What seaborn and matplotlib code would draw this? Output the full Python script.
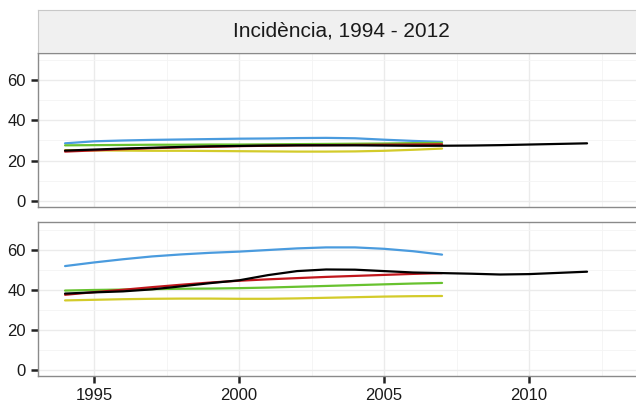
import numpy as np
import pandas as pd
import matplotlib
matplotlib.use("Agg")
import matplotlib.pyplot as plt
from matplotlib.ticker import MultipleLocator
import seaborn as sns

# years
years_short = list(range(1994, 2008))
years_long = list(range(1994, 2013))

# top panel (Incidència)
top_blue = [28.6, 29.6, 30.0, 30.3, 30.5, 30.7, 30.9, 31.0, 31.2, 31.3, 31.1, 30.4, 29.8, 29.3]
top_green = [27.6, 27.7, 27.8, 27.9, 27.9, 28.0, 28.0, 28.1, 28.2, 28.3, 28.4, 28.5, 28.7, 28.8]
top_yellow = [25.2, 25.1, 25.0, 24.9, 24.9, 24.8, 24.7, 24.6, 24.5, 24.5, 24.6, 24.9, 25.4, 26.0]
top_red = [24.5, 25.1, 25.7, 26.2, 26.6, 26.9, 27.2, 27.4, 27.6, 27.7, 27.8, 27.9, 28.0, 28.1]
top_black = [25.0, 25.5, 26.0, 26.4, 26.8, 27.1, 27.3, 27.5, 27.6, 27.6, 27.6, 27.5, 27.4, 27.4,
             27.5, 27.7, 28.0, 28.3, 28.6]

# bottom panel
bot_blue = [51.8, 53.6, 55.2, 56.6, 57.6, 58.4, 59.0, 59.8, 60.6, 61.1, 61.1, 60.4, 59.2, 57.5]
bot_green = [39.6, 39.9, 40.1, 40.3, 40.5, 40.6, 40.8, 41.1, 41.5, 41.9, 42.3, 42.7, 43.1, 43.4]
bot_yellow = [34.7, 35.0, 35.3, 35.5, 35.6, 35.6, 35.5, 35.5, 35.7, 36.0, 36.3, 36.6, 36.8, 36.9]
bot_red = [37.5, 38.8, 40.0, 41.3, 42.5, 43.6, 44.5, 45.2, 45.8, 46.4, 46.9, 47.4, 47.9, 48.3]
bot_black = [38.1, 38.7, 39.2, 40.2, 41.7, 43.3, 44.7, 47.3, 49.3, 50.1, 50.0, 49.3, 48.6, 48.3,
             48.0, 47.6, 47.8, 48.4, 49.0]

groups = ["blue", "green", "yellow", "red", "black"]
colors = {"blue": "#4A9BDE", "green": "#68C22F", "yellow": "#D3CB2A",
          "red": "#C0161C", "black": "#000000"}


def long_df(series):
    rows = []
    for g, vals in series.items():
        yrs = years_long if len(vals) == len(years_long) else years_short
        for yr, v in zip(yrs, vals):
            rows.append({"year": yr, "value": v, "group": g})
    return pd.DataFrame(rows)


df_top = long_df({"blue": top_blue, "green": top_green, "yellow": top_yellow,
                  "red": top_red, "black": top_black})
df_bot = long_df({"blue": bot_blue, "green": bot_green, "yellow": bot_yellow,
                  "red": bot_red, "black": bot_black})

sns.set_style("ticks")
plt.rcParams["font.family"] = ["Liberation Sans", "DejaVu Sans"]

fig = plt.figure(figsize=(6.36, 4.03), dpi=100)
W, H = 636, 403
left = 37.5 / W
width = 1 - left + 0.04          # panels run off the right edge (cropped look)
x_right = 1993.05 + width * W / 29.0
ax_top = fig.add_axes([left, 1 - 206.7 / H, width, (206.7 - 52.5) / H])
ax_bot = fig.add_axes([left, 1 - 375.7 / H, width, (375.7 - 222.3) / H])

for ax, d in [(ax_top, df_top), (ax_bot, df_bot)]:
    sns.lineplot(data=d, x="year", y="value", hue="group", hue_order=groups,
                 palette=colors, linewidth=1.6, legend=False, ax=ax, zorder=3)
    ax.set_xlim(1993.05, x_right)
    ax.set_ylim(-2.8, 73.6)
    ax.xaxis.set_major_locator(MultipleLocator(5))
    ax.xaxis.set_minor_locator(MultipleLocator(2.5))
    ax.yaxis.set_major_locator(MultipleLocator(20))
    ax.yaxis.set_minor_locator(MultipleLocator(10))
    ax.grid(which="major", color="#EBEBEB", linewidth=1.0)
    ax.grid(which="minor", color="#F4F4F4", linewidth=0.6)
    for s in ax.spines.values():
        s.set_color("#8A8A8A")
        s.set_linewidth(1.0)
    ax.set_xlabel("")
    ax.set_ylabel("")
    ax.tick_params(axis="y", which="major", direction="out", length=5, width=1.8,
                   color="#222222", labelsize=12, labelcolor="#1A1A1A", pad=3.5,
                   left=True, right=False)
    ax.tick_params(which="minor", length=0)

ax_top.tick_params(axis="x", which="both", bottom=False, labelbottom=False)
ax_bot.tick_params(axis="x", which="major", direction="out", length=5, width=1.8,
                   color="#222222", labelsize=12, labelcolor="#1A1A1A", pad=3.5,
                   bottom=True, top=False)

# strip on top
strip = fig.add_axes([left, 1 - 52.5 / H, width, (52.5 - 10) / H])
strip.set_facecolor("#F0F0F0")
strip.set_xticks([])
strip.set_yticks([])
for s in strip.spines.values():
    s.set_color("#C8C8C8")
strip.spines["bottom"].set_color("#8A8A8A")
strip.text((341 - 37.5) / (width * W), 0.5, "Incidència, 1994 - 2012",
           transform=strip.transAxes, ha="center", va="center",
           fontsize=15, color="#1A1A1A")

fig.savefig("out.png", dpi=100)
